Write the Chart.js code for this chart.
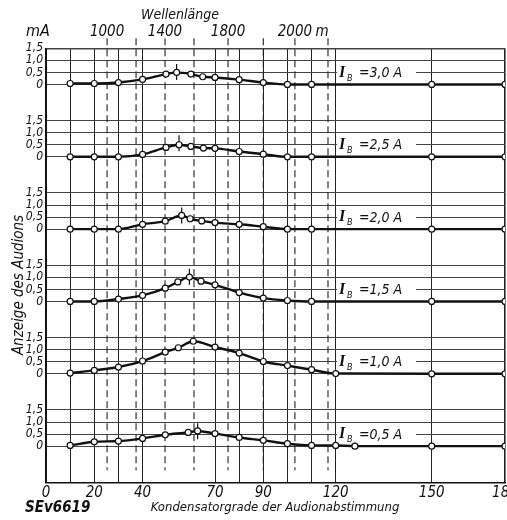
<!DOCTYPE html>
<html>
<head>
<meta charset="utf-8">
<script src="https://cdn.jsdelivr.net/npm/chart.js@4.4.1/dist/chart.umd.min.js"></script>
<style>
body { margin: 0; background: #fff; }
#wrap { width: 507px; height: 520px; }
</style>
</head>
<body>
<div id="wrap"><canvas id="c"></canvas></div>
<script>
// Heizstrom der Kurven, von oben nach unten
let currents = ["3,0", "2,5", "2,0", "1,5", "1,0", "0,5"]

// Kondensatorgrade und Anzeige (mA) je Kurve
let deg30 = [10, 20, 30, 40, 49.7, 54.1, 60, 64.9, 70, 80, 90, 100, 110, 150, 180]
let mA30 = [0.04, 0.04, 0.08, 0.21, 0.43, 0.5, 0.43, 0.32, 0.29, 0.2, 0.08, 0, 0, 0, 0]
let deg25 = [10, 20, 30, 40, 49.7, 55.1, 60, 65.2, 70, 80, 90, 100, 110, 150, 180]
let mA25 = [0, 0, 0, 0.1, 0.39, 0.5, 0.43, 0.36, 0.35, 0.22, 0.11, 0, 0, 0, 0]
let deg20 = [10, 20, 30, 40, 49.4, 56.2, 59.7, 64.5, 70, 80, 90, 100, 110, 150, 180]
let mA20 = [0, 0, 0, 0.2, 0.33, 0.57, 0.43, 0.34, 0.27, 0.2, 0.1, 0, 0, 0, 0]
let deg15 = [10, 20, 30, 40, 49.4, 54.6, 59.4, 64.2, 70, 80, 90, 100, 110, 150, 180]
let mA15 = [0, 0, 0.1, 0.25, 0.55, 0.81, 1.01, 0.84, 0.69, 0.37, 0.14, 0.04, 0, 0, 0]
let deg10 = [10, 20, 30, 40, 49.4, 54.8, 61, 70, 80, 90, 100, 110, 120, 150, 180]
let mA10 = [0.03, 0.14, 0.28, 0.53, 0.9, 1.08, 1.35, 1.11, 0.86, 0.51, 0.34, 0.17, 0.01, 0, 0]
let deg05 = [10, 20, 30, 40, 49.4, 58.9, 62.8, 70, 80, 90, 100, 110, 120, 126, 150, 180]
let mA05 = [0.03, 0.18, 0.21, 0.32, 0.47, 0.57, 0.63, 0.52, 0.36, 0.24, 0.1, 0.03, 0.03, 0, 0, 0]

// Resonanzmarken (senkrechte Striche)
let peakDeg = [54.1, 55.1, 56.2, 59.4, null, 62.8]
let peakmA = [0.52, 0.56, 0.57, 1.02, null, 0.62]

// Achsen
let gridDeg = [0, 10, 20, 30, 40, 70, 80, 90, 100, 110, 120, 150, 180]
let degLabels = [0, 20, 40, 70, 90, 120, 150, 180]
let mATicks = [0, 0.5, 1.0, 1.5]
let mALabels = ["0", "0,5", "1,0", "1,5"]
let waveDeg = [25.3, 37.3, 49.3, 61.3, 75.4, 90, 103.1, 116.8]
let waveLabels = ["1000", "", "1400", "", "1800", "", "2000", "m"]

let curves = [[deg30, mA30], [deg25, mA25], [deg20, mA20], [deg15, mA15], [deg10, mA10], [deg05, mA05]]
let panelZero = i => 3 * (5 - i)

// lineare Skala mit Knickstellen (Zeichnung ist nicht gleichmässig geteilt)
class KnickScale extends Chart.LinearScale {
    _frac(v) {
        let k = this.options.knots, f = this.options.fracs
        for (let i = 1; i < k.length; i++) {
            if (v <= k[i] || i === k.length - 1) {
                return f[i - 1] + (v - k[i - 1]) / (k[i] - k[i - 1]) * (f[i] - f[i - 1])
            }
        }
    }
    getPixelForValue(v) {
        return this.getPixelForDecimal(this._frac(v))
    }
    getValueForPixel(p) {
        let d = this.getDecimalForPixel(p)
        let k = this.options.knots, f = this.options.fracs
        for (let i = 1; i < f.length; i++) {
            if (d <= f[i] || i === f.length - 1) {
                return k[i - 1] + (d - f[i - 1]) / (f[i] - f[i - 1]) * (k[i] - k[i - 1])
            }
        }
    }
}
KnickScale.id = "knick"
KnickScale.defaults = {}
Chart.register(KnickScale)

let datasets = []
curves.forEach((c, i) => {
    datasets.push({
        data: c[0].map((d, j) => ({x: d, y: c[1][j] + panelZero(i)})),
        borderColor: "#111",
        borderWidth: 2.4,
        pointRadius: 3,
        pointBackgroundColor: "#fff",
        pointBorderColor: "#111",
        pointBorderWidth: 1.2,
        cubicInterpolationMode: "monotone"
    })
})
let marks = []
peakDeg.forEach((d, i) => {
    if (d !== null) marks.push({x: d, y: peakmA[i] + panelZero(i)})
})
datasets.push({
    data: marks,
    showLine: false,
    pointStyle: "line",
    rotation: 90,
    pointRadius: 8,
    pointBorderColor: "#111",
    pointBorderWidth: 1.2
})

let italic = (px) => "italic " + px + "px 'Liberation Sans Narrow', 'DejaVu Sans Condensed', sans-serif"

function txt(ctx, s, x, y, font, align = "center") {
    ctx.font = font
    ctx.textAlign = align
    ctx.textBaseline = "middle"
    ctx.fillStyle = "#111"
    ctx.fillText(s, x, y)
}

let paperPlugin = {
    id: "paper",
    beforeDatasetsDraw(chart) {
        let ctx = chart.ctx
        let xs = chart.scales.x, ys = chart.scales.y
        let area = chart.chartArea
        ctx.save()
        // Wellenlaengen: gestrichelte Linien
        ctx.strokeStyle = "#222"
        ctx.lineWidth = 1.1
        ctx.setLineDash([7, 4])
        waveDeg.forEach(d => {
            let px = xs.getPixelForValue(d)
            ctx.beginPath()
            ctx.moveTo(px, area.top - 10)
            ctx.lineTo(px, area.bottom - 12)
            ctx.stroke()
        })
        ctx.setLineDash([])
        // Beschriftung der Kurven
        currents.forEach((c, i) => {
            let y = ys.getPixelForValue(panelZero(i) + 0.5) + 1
            ctx.fillStyle = "#fff"
            ctx.fillRect(337, y - 5, 79, 9)
            ctx.font = "bold italic 16px 'Liberation Serif', 'DejaVu Serif', serif"
            ctx.textAlign = "left"
            ctx.textBaseline = "middle"
            ctx.fillStyle = "#111"
            ctx.fillText("I", 339, y - 1)
            ctx.font = italic(9)
            ctx.fillText("B", 347, y + 5)
            ctx.font = italic(14)
            ctx.fillText("=" + c + " A", 359, y)
        })
        ctx.restore()
    },
    afterDraw(chart) {
        let ctx = chart.ctx
        let xs = chart.scales.x, ys = chart.scales.y
        let area = chart.chartArea
        ctx.save()
        currents.forEach((c, i) => {
            mATicks.forEach((t, j) => {
                txt(ctx, mALabels[j], area.left - 3, ys.getPixelForValue(panelZero(i) + t), italic(12), "right")
            })
        })
        degLabels.forEach(d => {
            txt(ctx, String(d), xs.getPixelForValue(d), area.bottom + 11, italic(15))
        })
        waveDeg.forEach((d, i) => {
            if (waveLabels[i] === "") return
            let shift = waveLabels[i] === "m" ? -6 : 0
            txt(ctx, waveLabels[i], xs.getPixelForValue(d) + shift, 32, italic(15))
        })
        txt(ctx, "Wellenlänge", 180, 15, italic(14))
        txt(ctx, "mA", 38, 32, italic(16))
        txt(ctx, "Kondensatorgrade der Audionabstimmung", 275, 508, italic(13))
        txt(ctx, "SEv6619", 25, 508, "bold " + italic(15), "left")
        ctx.translate(19, 285)
        ctx.rotate(-Math.PI / 2)
        txt(ctx, "Anzeige des Audions", 0, 0, italic(15))
        ctx.restore()
    }
}

new Chart(document.getElementById("c"), {
    type: "line",
    data: {datasets: datasets},
    options: {
        responsive: true,
        maintainAspectRatio: false,
        animation: false,
        layout: {autoPadding: false, padding: {top: 48.3, right: 2, left: 0, bottom: 0}},
        plugins: {legend: {display: false}, tooltip: {enabled: false}},
        scales: {
            x: {
                type: "knick",
                min: 0,
                max: 180,
                knots: [0, 120, 150, 180],
                fracs: [0, 0.6312, 0.8403, 1],
                afterBuildTicks: s => { s.ticks = gridDeg.map(v => ({value: v})) },
                afterFit: s => { s.height = 37.7 },
                ticks: {display: false},
                grid: {color: "#222", lineWidth: c => c.tick && c.tick.value === 180 ? 1.6 : 1, drawTicks: false},
                border: {color: "#111", width: 1.6}
            },
            y: {
                type: "linear",
                min: -1.5,
                max: 16.5,
                afterBuildTicks: s => {
                    let t = []
                    currents.forEach((c, i) => mATicks.forEach(v => t.push({value: panelZero(i) + v})))
                    s.ticks = t.sort((a, b) => a.value - b.value)
                },
                afterFit: s => { s.width = 46 },
                ticks: {display: false},
                grid: {color: "#444", lineWidth: c => c.tick && c.tick.value === 16.5 ? 1.6 : 1, drawTicks: false},
                border: {color: "#111", width: 1.6}
            }
        }
    },
    plugins: [paperPlugin]
})
</script>
</body>
</html>
